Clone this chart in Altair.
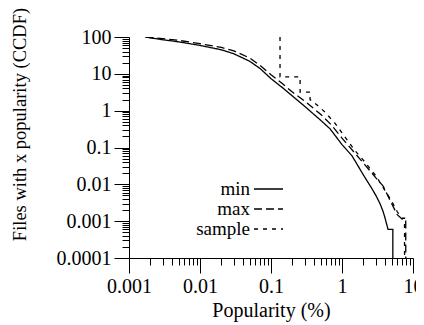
import altair as alt
import pandas as pd

FONT = "Liberation Serif"

series_names = ["min", "max", "sample"]

min_x = [0.0017, 0.003, 0.005, 0.01, 0.02, 0.03, 0.05, 0.07, 0.1, 0.15, 0.2, 0.3, 0.5, 0.68,
         1.0, 1.38, 2.0, 2.6, 3.0, 3.43, 3.8, 4.0, 4.45, 5.2, 5.2]
min_y = [100, 84, 74, 59, 45, 35, 22, 14, 7.4, 4.0, 2.5, 1.3, 0.55, 0.32,
         0.12, 0.06, 0.018, 0.008, 0.005, 0.003, 0.0018, 0.0013, 0.0006, 0.0006, 0.00001]

max_x = [0.0017, 0.003, 0.005, 0.01, 0.02, 0.03, 0.05, 0.07, 0.1, 0.15, 0.2, 0.3, 0.5, 0.7,
         1.0, 1.52, 2.0, 3.0, 3.8, 4.3, 5.0, 6.0, 7.2, 7.9, 7.9]
max_y = [100, 90, 81, 66, 52, 42, 27, 17, 9.5, 5.1, 3.2, 1.8, 0.8, 0.42,
         0.18, 0.07, 0.038, 0.015, 0.009, 0.0055, 0.003, 0.0015, 0.0011, 0.0011, 0.00001]

sample_x = [0.134, 0.134, 0.257, 0.257, 0.355, 0.355, 0.45, 0.58, 0.8, 1.0, 1.5, 2.0, 3.0,
            4.0, 5.0, 6.0, 7.0, 7.6, 7.6]
sample_y = [100, 8.3, 8.3, 3.2, 3.2, 2.0, 1.4, 0.9, 0.45, 0.25, 0.085, 0.045, 0.017,
            0.007, 0.0035, 0.0018, 0.0012, 0.0012, 0.00001]

x_major = [0.001, 0.01, 0.1, 1, 10]
y_major = [0.0001, 0.001, 0.01, 0.1, 1, 10, 100]
x_minor = [m * 10.0 ** k for k in range(-3, 1) for m in range(2, 10)]
y_minor = [m * 10.0 ** k for k in range(-4, 2) for m in range(2, 10)]

rows = []
for name, xs, ys in zip(series_names, [min_x, max_x, sample_x], [min_y, max_y, sample_y]):
    for i, (a, b) in enumerate(zip(xs, ys)):
        rows.append({"series": name, "x": a, "y": b, "i": i})
df = pd.DataFrame(rows)

xscale = alt.Scale(type="log", domain=[0.001, 10], nice=False)
yscale = alt.Scale(type="log", domain=[0.0001, 100], nice=False)

dashes = [[1, 0], [8, 4], [4, 5]]

common_axis = dict(grid=False, tickColor="black", domainColor="black", tickWidth=1, domainWidth=1)

x_major_axis = alt.Axis(values=x_major, format="~f", tickSize=15, labelFont=FONT, labelFontSize=20,
                        labelColor="black", labelPadding=3, labelFlush=False, labelOverlap=False,
                        title="Popularity (%)", titleFont=FONT, titleFontSize=20,
                        titleFontWeight="normal", titleColor="black", titlePadding=4,
                        orient="bottom", **common_axis)
y_major_axis = alt.Axis(values=y_major, format="~f", tickSize=15, labelFont=FONT, labelFontSize=20,
                        labelColor="black", labelPadding=3, labelOverlap=False,
                        title="Files with x popularity (CCDF)", titleFont=FONT, titleFontSize=18.5,
                        titleFontWeight="normal", titleColor="black", titlePadding=27,
                        titleY=87, orient="left", **common_axis)
x_minor_axis = alt.Axis(values=x_minor, tickSize=7, labels=False, domain=False, title=None,
                        orient="bottom", **common_axis)
y_minor_axis = alt.Axis(values=y_minor, tickSize=7, labels=False, domain=False, title=None,
                        orient="left", **common_axis)

lines = alt.Chart(df).mark_line(color="black", strokeWidth=1.3, clip=True).encode(
    x=alt.X("x:Q", scale=xscale, axis=x_major_axis),
    y=alt.Y("y:Q", scale=yscale, axis=y_major_axis),
    strokeDash=alt.StrokeDash("series:N", scale=alt.Scale(domain=series_names, range=dashes), legend=None),
    detail="series:N",
    order="i:Q",
)

minor = alt.Chart(df).mark_point(opacity=0).encode(
    x=alt.X("x:Q", scale=xscale, axis=x_minor_axis),
    y=alt.Y("y:Q", scale=yscale, axis=y_minor_axis),
)

legend_layers = []
for k, name in enumerate(series_names):
    ly = 152 + 20 * k
    ldf = pd.DataFrame({"label": [name]})
    legend_layers.append(
        alt.Chart(ldf).mark_text(align="right", baseline="middle", font=FONT, fontSize=19, color="black").encode(
            x=alt.value(121), y=alt.value(ly), text="label:N")
    )
    legend_layers.append(
        alt.Chart(ldf).mark_rule(color="black", strokeWidth=1.3, strokeDash=dashes[k]).encode(
            x=alt.value(125), x2=alt.value(154), y=alt.value(ly))
    )

chart = alt.layer(lines, minor, *legend_layers).resolve_axis(
    x="independent", y="independent"
).properties(
    width=284, height=221,
    autosize=alt.AutoSizeParams(type="none"),
    padding={"left": 121, "top": 29, "right": 3, "bottom": 70},
    background="white",
).configure_view(stroke=None)

chart.save("out.html", embed_options={"renderer": "svg", "actions": False})
